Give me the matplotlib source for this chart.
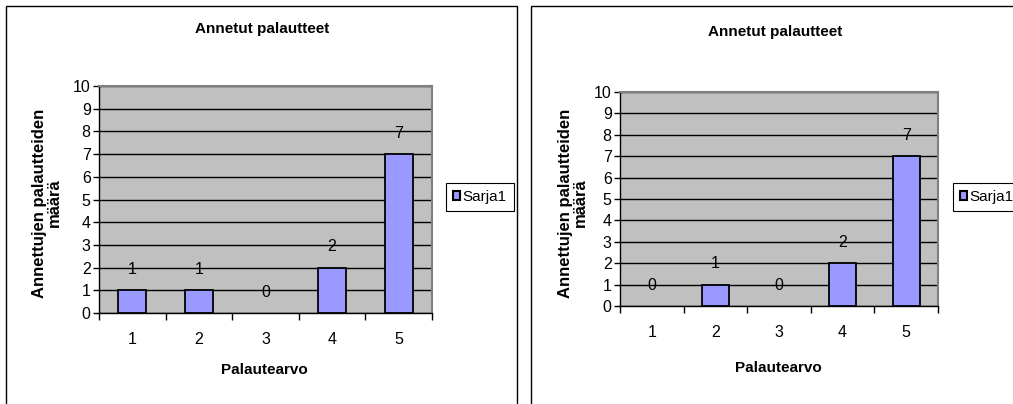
import matplotlib
matplotlib.use("Agg")
import matplotlib.pyplot as plt
from matplotlib.patches import Rectangle, Patch

plt.rcParams['font.family'] = ['Liberation Sans', 'DejaVu Sans']

# data
categories = ["1", "2", "3", "4", "5"]
left_counts = [1, 1, 0, 2, 7]
right_counts = [0, 1, 0, 2, 7]
series_name = "Sarja1"
title_text = "Annetut palautteet"
xlabel_text = "Palautearvo"
ylabel_text = "Annettujen palautteiden\nmäärä"

W, H = 1013, 404
fig = plt.figure(figsize=(W / 100, H / 100), dpi=100)


def px_rect(x0, y0, x1, y1):
    # pixel box (top-left origin) -> figure fraction [left, bottom, width, height]
    return [x0 / W, 1 - y1 / H, (x1 - x0) / W, (y1 - y0) / H]


# panel frames
for x0, y0, x1, y1 in [(6, 6, 517, 410), (531, 6, 1020, 410)]:
    l, b, w, h = px_rect(x0, y0, x1, y1)
    fig.add_artist(Rectangle((l, b), w, h, transform=fig.transFigure,
                             facecolor='white', edgecolor='black', lw=1.0, zorder=0))


def draw_panel(box, counts, title_xy, xlabel_xy, ylabel_xy, legend_xy):
    ax = fig.add_axes(px_rect(*box))
    ax.set_facecolor('#c0c0c0')
    xs = range(len(counts))
    bars = ax.bar(xs, counts, width=0.42, color='#9999ff', edgecolor='black',
                  linewidth=1.3, zorder=3)
    # zero bars are not visible in the original
    for b, v in zip(bars, counts):
        if v == 0:
            b.set_linewidth(0)
    for x, v in zip(xs, counts):
        ax.annotate(str(v), (x, v), xytext=(0, 15), textcoords='offset points',
                    ha='center', va='center', fontsize=11.5, zorder=4)
    ax.set_xlim(-0.5, len(counts) - 0.5)
    ax.set_ylim(0, 10)
    ax.set_yticks(range(0, 11))
    ax.yaxis.grid(True, color='black', lw=1.0, zorder=1)
    ax.set_axisbelow(True)
    ax.set_xticks([x - 0.5 for x in range(len(counts) + 1)])
    ax.set_xticklabels([])
    ax.set_xticks(list(xs), minor=True)
    ax.set_xticklabels(categories, minor=True)
    ax.tick_params(axis='x', which='major', direction='out', length=5, width=1, color='black')
    ax.tick_params(axis='x', which='minor', length=0, pad=14, labelsize=11.5)
    ax.tick_params(axis='y', direction='out', length=4, width=1, pad=2, labelsize=11.5)
    for s in ['top', 'right']:
        ax.spines[s].set_color('#808080')
        ax.spines[s].set_linewidth(1.5)
    for s in ['left', 'bottom']:
        ax.spines[s].set_color('black')
        ax.spines[s].set_linewidth(1.0)

    fig.text(title_xy[0] / W, 1 - title_xy[1] / H, title_text, ha='center', va='center',
             fontsize=11, fontweight='bold')
    fig.text(xlabel_xy[0] / W, 1 - xlabel_xy[1] / H, xlabel_text, ha='center', va='center',
             fontsize=11, fontweight='bold')
    fig.text(ylabel_xy[0] / W, 1 - ylabel_xy[1] / H, ylabel_text, ha='center', va='center',
             rotation=90, fontsize=12, fontweight='bold', linespacing=0.95)

    handle = Patch(facecolor='#9999ff', edgecolor='black', linewidth=1.5)
    leg = ax.legend([handle], [series_name], loc='upper left',
                    bbox_to_anchor=(legend_xy[0] / W, 1 - legend_xy[1] / H),
                    bbox_transform=fig.transFigure, fontsize=11, frameon=True,
                    fancybox=False, edgecolor='black', framealpha=1, borderpad=0.45,
                    handlelength=0.45, handleheight=0.45, handletextpad=0.2,
                    borderaxespad=0)
    leg.get_frame().set_linewidth(0.8)
    return ax


draw_panel((99, 86, 432, 313), left_counts, (262, 29), (264, 370), (47, 203), (446, 183))
draw_panel((620, 92, 938, 306), right_counts, (775, 32), (778, 368), (573, 203), (953, 183))

fig.savefig('out.png', dpi=100)
